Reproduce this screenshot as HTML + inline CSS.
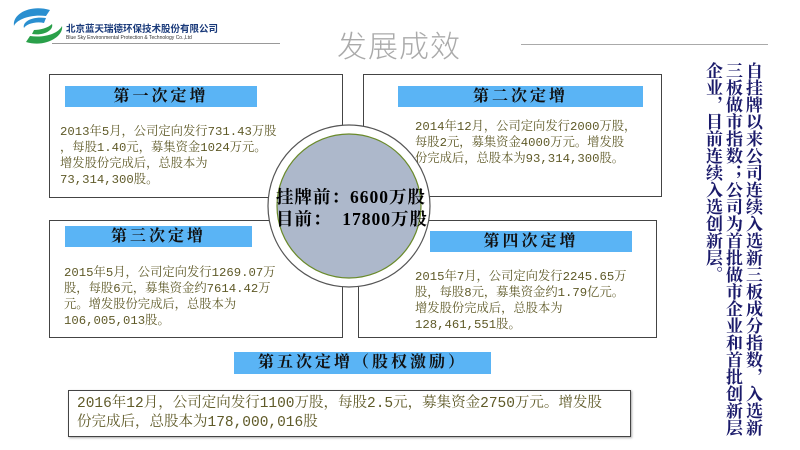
<!DOCTYPE html>
<html><head><meta charset="utf-8"><style>
body{margin:0;width:800px;height:450px;background:#fff;position:relative;overflow:hidden;font-family:"Liberation Serif","Noto Serif CJK SC",serif}
.a{position:absolute}
.box{position:absolute;border:1.5px solid #444;background:#fff;box-sizing:border-box}
.bar{position:absolute;background:#5ab4f5;color:#111;font-weight:bold;font-size:16px;text-align:center;line-height:21px;letter-spacing:3px;font-family:"Liberation Serif","Noto Serif CJK SC",serif}
.t{position:absolute;color:#5f5a28;font-size:12.3px;line-height:16px;font-family:"Liberation Mono","Noto Serif CJK SC",monospace;white-space:nowrap}
</style></head><body>
<svg class="a" style="left:10px;top:6px" width="56" height="40" viewBox="0 0 56 40">
<path d="M40 4 C20 -2 2 8 4 20 C6 14 20 8 36 10 Z" fill="#2a8fd0"/>
<path d="M36 12 C22 10 12 16 14 22 C16 18 26 15 34 17 Z" fill="#2a8fd0"/>
<path d="M16 36 C36 42 54 30 52 20 C48 28 34 32 20 30 Z" fill="#2aa04a"/>
<path d="M22 28 C34 30 44 24 42 18 C38 22 30 24 24 24 Z" fill="#2aa04a"/>
</svg>
<div class="a" style="left:66px;top:21px;font-size:9.5px;font-weight:bold;color:#1a3a7a;font-family:'Noto Sans CJK SC',sans-serif">北京蓝天瑞德环保技术股份有限公司</div>
<div class="a" style="left:66px;top:35px;font-size:5px;color:#333;font-family:'Liberation Sans',sans-serif">Blue Sky Environmental Protection &amp; Technology Co.,Ltd</div>
<div class="a" style="left:52px;top:43px;width:228px;height:1px;background:#999"></div>
<div class="a" style="left:521px;top:44px;width:247px;height:1px;background:#aaa"></div>
<div class="a" style="left:337px;top:26px;font-size:30px;color:#aaa;font-family:'Noto Sans CJK SC',sans-serif;font-weight:300;letter-spacing:1px;line-height:36px">发展成效</div>

<div class="box" style="left:49px;top:74px;width:294px;height:124px"></div>
<div class="bar" style="left:65px;top:86px;width:192px">第一次定增</div>
<div class="t" style="left:60px;top:124px">2013年5月，公司定向发行731.43万股<br>，每股1.40元，募集资金1024万元。<br>增发股份完成后，总股本为<br>73,314,300股。</div>

<div class="box" style="left:363px;top:74px;width:299px;height:123px"></div>
<div class="bar" style="left:398px;top:86px;width:245px">第二次定增</div>
<div class="t" style="left:415px;top:119px">2014年12月，公司定向发行2000万股，<br>每股2元，募集资金4000万元。增发股<br>份完成后，总股本为93,314,300股。</div>

<div class="box" style="left:49px;top:220px;width:294px;height:118px"></div>
<div class="bar" style="left:65px;top:226px;width:187px">第三次定增</div>
<div class="t" style="left:64px;top:265px">2015年5月，公司定向发行1269.07万<br>股，每股6元，募集资金约7614.42万<br>元。增发股份完成后，总股本为<br>106,005,013股。</div>

<div class="box" style="left:358px;top:220px;width:299px;height:118px"></div>
<div class="bar" style="left:430px;top:231px;width:202px">第四次定增</div>
<div class="t" style="left:415px;top:269px">2015年7月，公司定向发行2245.65万<br>股，每股8元，募集资金约1.79亿元。<br>增发股份完成后，总股本为<br>128,461,551股。</div>

<svg class="a" style="left:0;top:0" width="800" height="450">
<circle cx="349" cy="206" r="81" fill="#fff" stroke="#555" stroke-width="1.2"/>
<circle cx="349" cy="206" r="72" fill="#adb8cb" stroke="#6a8a2a" stroke-width="1.2"/>
</svg>
<div class="a" style="left:276px;top:186px;font-size:17.5px;font-weight:bold;color:#000;line-height:22px;white-space:nowrap;letter-spacing:1px">挂牌前：6600万股<br>目前：&nbsp;&nbsp;17800万股</div>

<div class="bar" style="left:234px;top:352px;width:257px;height:22px;line-height:22px;font-size:16px">第五次定增（股权激励）</div>
<div class="box" style="left:68px;top:390px;width:563px;height:47px;box-shadow:1px 1px 2px #aaa"></div>
<div class="t" style="left:77px;top:395px;font-size:14.5px;line-height:19px">2016年12月，公司定向发行1100万股，每股2.5元，募集资金2750万元。增发股<br>份完成后，总股本为178,000,016股</div>

<div class="a" style="left:702px;top:62px;height:376px;width:62px;writing-mode:vertical-rl;font-size:17px;line-height:20px;color:#1a1a6a;font-weight:bold;font-family:'Noto Serif CJK SC',serif">自挂牌以来公司连续入选新三板成分指数，入选新三板做市指数；公司为首批做市企业和首批创新层企业，目前连续入选创新层。</div>
</body></html>
